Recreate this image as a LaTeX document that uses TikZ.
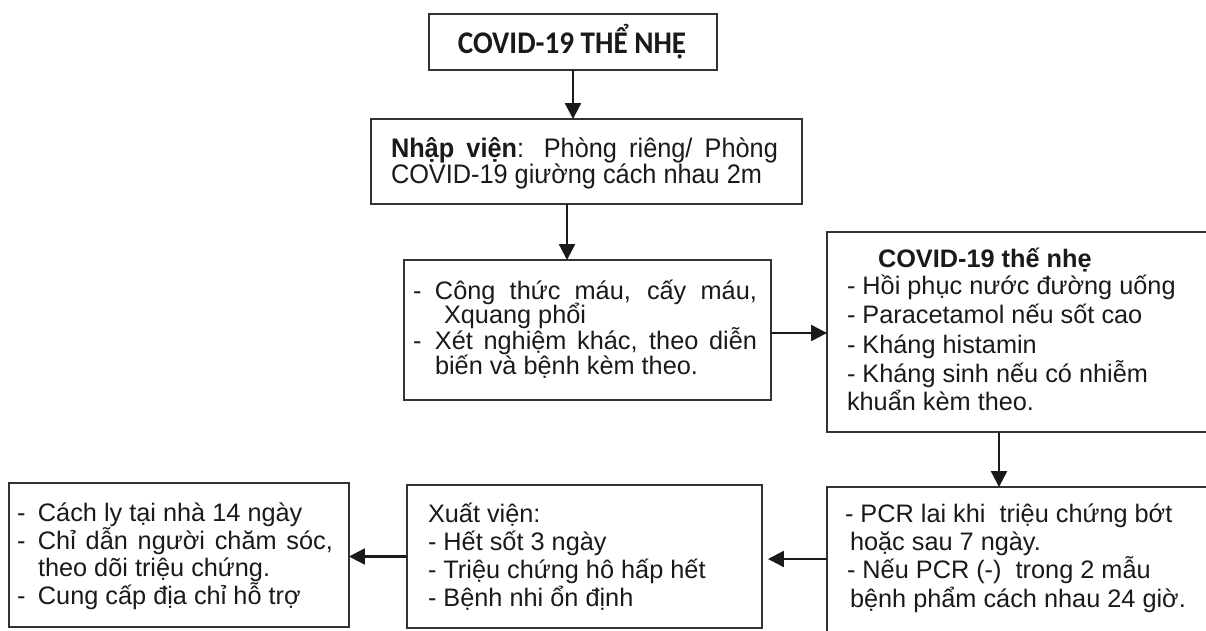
\documentclass[tikz,border=0pt]{standalone}
\usepackage{fontspec}
\usepackage{graphicx}
\setmainfont{Liberation Sans}
\newfontfamily\titlefont{Carlito}
\usetikzlibrary{arrows.meta}
\definecolor{boxc}{HTML}{333333}
\definecolor{txtc}{HTML}{1A1A1A}
\newcommand{\vstretch}[2]{\scalebox{1}[#1]{#2}}
\begin{document}
\begin{tikzpicture}[x=0.02cm,y=-0.02cm,
  box/.style={draw=boxc, line width=1.3pt, inner sep=0pt, outer sep=0pt},
  txt/.style={anchor=base west, inner sep=0pt, outer sep=0pt, text=txtc, font=\fontsize{14.4}{16}\selectfont},
  arr/.style={-{Triangle[length=9pt,width=9pt]}, line width=1.3pt, draw=txtc}]
\clip (0,0) rectangle (1206,630);
\fill[white] (0,0) rectangle (1206,630);

% boxes
\node[box, minimum width=5.76cm, minimum height=1.12cm] (b1) at (573,42) {};
\node[box, minimum width=8.62cm, minimum height=1.70cm] (b2) at (586.5,161.5) {};
\node[box, minimum width=7.34cm, minimum height=2.80cm] (b3) at (587.5,330) {};
\node[box, minimum width=7.76cm, minimum height=4.00cm] (b4) at (1021,332) {};
\node[box, minimum width=7.86cm, minimum height=3.26cm] (b5) at (1023.5,568.5) {};
\node[box, minimum width=7.10cm, minimum height=2.86cm] (b6) at (584.5,556.5) {};
\node[box, minimum width=6.80cm, minimum height=2.88cm] (b7) at (179,555) {};

% title
\node[anchor=base, inner sep=0pt, text=txtc, font=\titlefont\bfseries\fontsize{16.6}{18}\selectfont] (t1) at (572,53) {\vstretch{1.08}{COVID-19 THỂ NHẸ}};

% box 2
\node[txt] (t2a) at (391,157) {\vstretch{1.06}{\makebox[7.74cm][s]{\textbf{Nhập viện}: Phòng riêng/ Phòng}}};
\node[txt] (t2b) at (391,183) {\vstretch{1.06}{COVID-19 giường cách nhau 2m}};

% box 3
\node[txt] (t3a) at (413,299) {\makebox[6.88cm][s]{\makebox[0.44cm][l]{-}Công thức máu, cấy máu,}};
\node[txt] (t3b) at (444,323) {Xquang phổi};
\node[txt] (t3c) at (413,349) {\makebox[6.88cm][s]{\makebox[0.44cm][l]{-}Xét nghiệm khác, theo diễn}};
\node[txt] (t3d) at (435,374) {biến và bệnh kèm theo.};

% box 4
\node[txt] (t4a) at (878,267) {\textbf{COVID-19 thế nhẹ}};
\node[txt] (t4b) at (847,294) {- Hồi phục nước đường uống};
\node[txt] (t4c) at (847,323) {- Paracetamol nếu sốt cao};
\node[txt] (t4d) at (847,353) {- Kháng histamin};
\node[txt] (t4e) at (847,382) {- Kháng sinh nếu có nhiễm};
\node[txt] (t4f) at (847,410) {khuẩn kèm theo.};

% box 5
\node[txt] (t5a) at (845,522) {- PCR lai khi\ \ triệu chứng bớt};
\node[txt] (t5b) at (850,550) {hoặc sau 7 ngày.};
\node[txt] (t5c) at (847,578) {- Nếu PCR (-)\ \ trong 2 mẫu};
\node[txt] (t5d) at (850,607) {bệnh phẩm cách nhau 24 giờ.};

% box 6
\node[txt] (t6a) at (428,522) {Xuất viện:};
\node[txt] (t6b) at (428,550) {- Hết sốt 3 ngày};
\node[txt] (t6c) at (428,578) {- Triệu chứng hô hấp hết};
\node[txt] (t6d) at (428,606) {- Bệnh nhi ổn định};

% box 7
\node[txt] (t7a) at (17,521) {\makebox[0.42cm][l]{-}Cách ly tại nhà 14 ngày};
\node[txt] (t7b) at (17,549) {\makebox[6.32cm][s]{\makebox[0.42cm][l]{-}Chỉ dẫn người chăm sóc,}};
\node[txt] (t7c) at (38,576) {theo dõi triệu chứng.};
\node[txt] (t7d) at (17,604) {\makebox[0.42cm][l]{-}Cung cấp địa chỉ hỗ trợ};

% connectors
\draw[arr] (b1.south) -- (b1.south |- b2.north);
\coordinate (c23) at ([xshift=-0.39cm]b2.south);
\draw[arr] (c23) -- (c23 |- b3.north);
\coordinate (c34) at ([yshift=-0.06cm]b3.east);
\draw[arr] (c34) -- (c34 -| b4.west);
\coordinate (c45) at ([xshift=3.44cm]b4.south west);
\draw[arr] (c45) -- (c45 |- b5.north);
\coordinate (c56) at ([yshift=-0.05cm]b6.east);
\draw[arr, shorten >=0.12cm] (c56 -| b5.west) -- (c56);
\draw[arr] (b6.west) -- (b6.west -| b7.east);
\end{tikzpicture}
\end{document}
